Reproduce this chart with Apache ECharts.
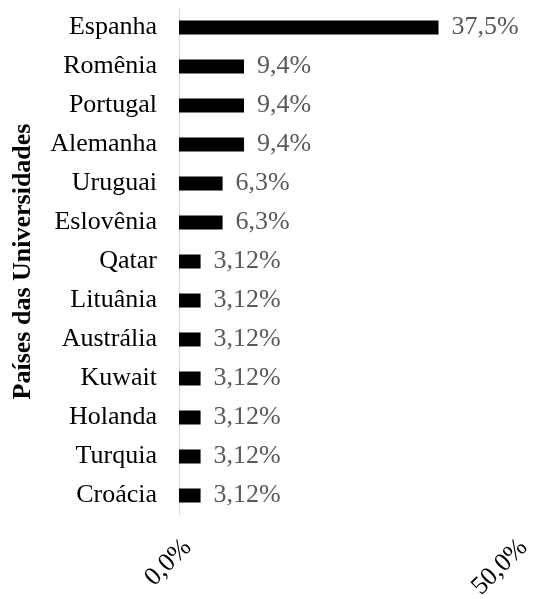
<!DOCTYPE html>
<html>
<head>
<meta charset="utf-8">
<script src="https://cdn.jsdelivr.net/npm/echarts@6/dist/echarts.min.js"></script>
<style>
  html, body { margin: 0; padding: 0; background: #fff; }
  #chart { width: 533px; height: 599px; }
</style>
</head>
<body>
<div id="chart"></div>
<script>
// países, de cima para baixo
const countries = ['Espanha', 'Romênia', 'Portugal', 'Alemanha', 'Uruguai', 'Eslovênia',
  'Qatar', 'Lituânia', 'Austrália', 'Kuwait', 'Holanda', 'Turquia', 'Croácia'];
const shares = [37.5, 9.4, 9.4, 9.4, 6.3, 6.3, 3.12, 3.12, 3.12, 3.12, 3.12, 3.12, 3.12];
const shareLabels = ['37,5%', '9,4%', '9,4%', '9,4%', '6,3%', '6,3%',
  '3,12%', '3,12%', '3,12%', '3,12%', '3,12%', '3,12%', '3,12%'];
const xTicks = [0, 50];
const xTickLabels = ['0,0%', '50,0%'];

const FONT = '"Liberation Serif", "Times New Roman", serif';

const chart = echarts.init(document.getElementById('chart'));
chart.setOption({
  animation: false,
  // outerBoundsMode none: grid fica fixo, rótulos podem passar da borda
  grid: { left: 179, right: 8, top: 8, bottom: 84, containLabel: false, outerBoundsMode: 'none' },
  xAxis: {
    type: 'value',
    min: 0,
    max: 50,
    interval: 50,
    axisLine: { show: false },
    axisTick: { show: false },
    splitLine: { show: false },
    axisLabel: {
      rotate: 45,
      margin: 37,
      color: '#000',
      fontFamily: FONT,
      fontSize: 26,
      formatter: (v) => {
        const i = xTicks.indexOf(v);
        if (i < 0) return '';
        return (i === 0 ? '{a|' : '{b|') + xTickLabels[i] + '}';
      },
      rich: {
        a: { fontFamily: FONT, fontSize: 26, color: '#000', padding: [0, -12, 0, 0] },
        b: { fontFamily: FONT, fontSize: 26, color: '#000', padding: [0, -5, 14, 0] }
      }
    }
  },
  yAxis: {
    type: 'category',
    inverse: true,
    data: countries,
    axisLine: { show: true, lineStyle: { color: '#d9d9d9', width: 1 } },
    axisTick: { show: false },
    axisLabel: { color: '#000', fontFamily: FONT, fontSize: 26, margin: 22 },
    name: 'Países das Universidades',
    nameLocation: 'middle',
    nameGap: 143,
    nameTextStyle: { color: '#000', fontFamily: FONT, fontSize: 26, fontWeight: 'bold' }
  },
  series: [{
    type: 'bar',
    data: shares,
    barWidth: 14,
    itemStyle: { color: '#000' },
    label: {
      show: true,
      position: 'right',
      distance: 13,
      color: '#595959',
      fontFamily: FONT,
      fontSize: 26,
      formatter: (p) => shareLabels[p.dataIndex]
    }
  }]
});
</script>
</body>
</html>
